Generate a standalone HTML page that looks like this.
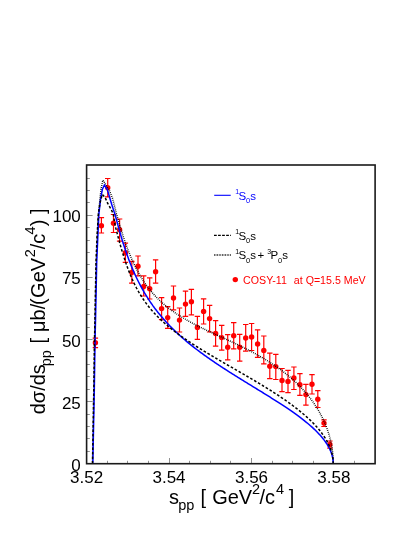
<!DOCTYPE html>
<html><head><meta charset="utf-8"><title>plot</title>
<style>html,body{margin:0;padding:0;background:#fff}svg{display:block;will-change:transform}text{font-family:"Liberation Sans",sans-serif}</style></head><body>
<svg width="415" height="537" viewBox="0 0 415 537">
<rect width="415" height="537" fill="#fff"/>
<path d="M107.50,463.7v-2.9M127.50,463.7v-2.9M148.50,463.7v-2.9M169.50,463.7v-5.7M189.50,463.7v-2.9M210.50,463.7v-2.9M230.50,463.7v-2.9M251.50,463.7v-5.7M272.50,463.7v-2.9M292.50,463.7v-2.9M313.50,463.7v-2.9M333.50,463.7v-5.7M354.50,463.7v-2.9M86.6,451.50h3.2M86.6,438.50h3.2M86.6,426.50h3.2M86.6,414.50h3.2M86.6,401.50h6.0M86.6,389.50h3.2M86.6,376.50h3.2M86.6,364.50h3.2M86.6,351.50h3.2M86.6,339.50h6.0M86.6,327.50h3.2M86.6,314.50h3.2M86.6,302.50h3.2M86.6,289.50h3.2M86.6,277.50h6.0M86.6,264.50h3.2M86.6,252.50h3.2M86.6,240.50h3.2M86.6,227.50h3.2M86.6,215.50h6.0M86.6,202.50h3.2M86.6,190.50h3.2M86.6,178.50h3.2" stroke="#858585" stroke-width="0.9" fill="none"/>
<path d="M95.4,338.2V347.7M92.7,338.2h5.4M92.7,347.7h5.4M101.4,217.6V233.0M98.7,217.6h5.4M98.7,233.0h5.4M107.7,178.5V196.8M105.0,178.5h5.4M105.0,196.8h5.4M113.5,214.5V232.5M110.8,214.5h5.4M110.8,232.5h5.4M119.6,219.0V241.2M116.9,219.0h5.4M116.9,241.2h5.4M125.4,243.1V262.4M122.7,243.1h5.4M122.7,262.4h5.4M131.8,261.4V283.2M129.1,261.4h5.4M129.1,283.2h5.4M138.0,256.0V275.9M135.3,256.0h5.4M135.3,275.9h5.4M143.7,275.9V296.0M141.0,275.9h5.4M141.0,296.0h5.4M149.7,277.8V299.0M147.0,277.8h5.4M147.0,299.0h5.4M155.6,259.9V283.2M152.9,259.9h5.4M152.9,283.2h5.4M161.6,297.6V319.7M158.9,297.6h5.4M158.9,319.7h5.4M167.7,306.6V328.4M165.0,306.6h5.4M165.0,328.4h5.4M173.5,286.0V309.9M170.8,286.0h5.4M170.8,309.9h5.4M179.5,308.0V332.0M176.8,308.0h5.4M176.8,332.0h5.4M185.5,291.2V316.3M182.8,291.2h5.4M182.8,316.3h5.4M191.4,289.3V314.9M188.7,289.3h5.4M188.7,314.9h5.4M197.4,316.3V339.4M194.7,316.3h5.4M194.7,339.4h5.4M203.6,298.9V324.0M200.9,298.9h5.4M200.9,324.0h5.4M209.6,305.3V332.0M206.9,305.3h5.4M206.9,332.0h5.4M215.6,320.6V346.2M212.9,320.6h5.4M212.9,346.2h5.4M221.7,325.4V350.1M219.0,325.4h5.4M219.0,350.1h5.4M227.7,334.7V359.8M225.0,334.7h5.4M225.0,359.8h5.4M233.7,322.6V348.8M231.0,322.6h5.4M231.0,348.8h5.4M239.7,334.3V361.1M237.0,334.3h5.4M237.0,361.1h5.4M245.7,324.5V351.1M243.0,324.5h5.4M243.0,351.1h5.4M251.6,323.5V350.5M248.9,323.5h5.4M248.9,350.5h5.4M257.6,329.9V357.4M254.9,329.9h5.4M254.9,357.4h5.4M263.8,336.0V363.8M261.1,336.0h5.4M261.1,363.8h5.4M269.8,353.2V378.6M267.1,353.2h5.4M267.1,378.6h5.4M275.8,354.3V379.5M273.1,354.3h5.4M273.1,379.5h5.4M282.0,368.5V391.7M279.3,368.5h5.4M279.3,391.7h5.4M288.0,370.3V392.6M285.3,370.3h5.4M285.3,392.6h5.4M293.9,367.0V389.5M291.2,367.0h5.4M291.2,389.5h5.4M299.9,373.7V395.3M297.2,373.7h5.4M297.2,395.3h5.4M305.9,384.3V405.2M303.2,384.3h5.4M303.2,405.2h5.4M312.0,374.7V394.0M309.3,374.7h5.4M309.3,394.0h5.4M317.8,390.7V407.5M315.1,390.7h5.4M315.1,407.5h5.4M324.0,419.8V426.5M321.3,419.8h5.4M321.3,426.5h5.4M329.9,441.0V448.1M327.2,441.0h5.4M327.2,448.1h5.4" stroke="#ff0000" stroke-width="1.2" fill="none"/>
<g fill="#ff0000"><circle cx="95.4" cy="342.8" r="2.7"/><circle cx="101.4" cy="225.7" r="2.7"/><circle cx="107.7" cy="187.7" r="2.7"/><circle cx="113.5" cy="223.3" r="2.7"/><circle cx="119.6" cy="229.8" r="2.7"/><circle cx="125.4" cy="252.8" r="2.7"/><circle cx="131.8" cy="272.4" r="2.7"/><circle cx="138.0" cy="266.3" r="2.7"/><circle cx="143.7" cy="286.5" r="2.7"/><circle cx="149.7" cy="288.8" r="2.7"/><circle cx="155.6" cy="271.7" r="2.7"/><circle cx="161.6" cy="308.6" r="2.7"/><circle cx="167.7" cy="317.6" r="2.7"/><circle cx="173.5" cy="298.0" r="2.7"/><circle cx="179.5" cy="320.1" r="2.7"/><circle cx="185.5" cy="304.1" r="2.7"/><circle cx="191.4" cy="301.8" r="2.7"/><circle cx="197.4" cy="327.4" r="2.7"/><circle cx="203.6" cy="311.4" r="2.7"/><circle cx="209.6" cy="318.6" r="2.7"/><circle cx="215.6" cy="333.5" r="2.7"/><circle cx="221.7" cy="337.6" r="2.7"/><circle cx="227.7" cy="347.2" r="2.7"/><circle cx="233.7" cy="335.7" r="2.7"/><circle cx="239.7" cy="347.2" r="2.7"/><circle cx="245.7" cy="338.0" r="2.7"/><circle cx="251.6" cy="337.0" r="2.7"/><circle cx="257.6" cy="344.0" r="2.7"/><circle cx="263.8" cy="350.4" r="2.7"/><circle cx="269.8" cy="366.2" r="2.7"/><circle cx="275.8" cy="366.6" r="2.7"/><circle cx="282.0" cy="380.5" r="2.7"/><circle cx="288.0" cy="381.4" r="2.7"/><circle cx="293.9" cy="378.0" r="2.7"/><circle cx="299.9" cy="384.7" r="2.7"/><circle cx="305.9" cy="394.6" r="2.7"/><circle cx="312.0" cy="384.3" r="2.7"/><circle cx="317.8" cy="399.3" r="2.7"/><circle cx="324.0" cy="423.1" r="2.7"/><circle cx="329.9" cy="444.4" r="2.7"/></g>
<path d="M92.50,463.60 L93.80,390.00 L94.50,342.00 L95.10,312.00 L96.20,262.00 L97.40,235.00 L98.50,213.60 L99.70,202.40 L101.00,189.30 L102.80,180.20 L105.00,183.30 L109.30,190.20 L112.40,198.00 L114.70,206.70 L116.30,213.60 L118.06,219.17 L118.64,221.25 L119.23,223.31 L119.83,225.37 L120.43,227.41 L121.04,229.43 L121.65,231.44 L122.27,233.42 L122.89,235.39 L123.52,237.32 L124.16,239.24 L124.80,241.13 L125.45,242.99 L126.10,244.83 L126.76,246.64 L127.42,248.42 L128.09,250.18 L128.76,251.90 L129.44,253.60 L130.12,255.27 L130.81,256.91 L131.51,258.52 L132.21,260.10 L132.91,261.66 L133.62,263.19 L134.33,264.69 L135.05,266.16 L135.78,267.60 L136.50,269.02 L137.24,270.41 L137.98,271.78 L138.72,273.11 L139.47,274.43 L140.22,275.72 L140.97,276.98 L141.73,278.22 L142.50,279.44 L143.27,280.63 L144.04,281.80 L144.82,282.95 L145.60,284.07 L146.39,285.17 L147.18,286.26 L147.97,287.32 L148.77,288.36 L149.58,289.38 L150.38,290.39 L151.19,291.37 L152.01,292.34 L152.82,293.29 L153.65,294.22 L154.47,295.13 L155.30,296.03 L156.13,296.91 L156.97,297.77 L157.81,298.62 L158.65,299.46 L159.50,300.28 L160.35,301.09 L161.20,301.88 L162.06,302.66 L162.92,303.42 L163.78,304.17 L164.65,304.91 L165.51,305.64 L166.39,306.36 L167.26,307.06 L168.14,307.76 L169.02,308.44 L169.90,309.11 L170.79,309.77 L171.67,310.43 L172.56,311.07 L173.46,311.70 L174.35,312.33 L175.25,312.94 L176.15,313.55 L177.05,314.15 L177.96,314.74 L178.87,315.32 L179.77,315.90 L180.69,316.47 L181.60,317.03 L182.51,317.59 L183.43,318.13 L184.35,318.68 L185.27,319.21 L186.19,319.74 L187.12,320.27 L188.04,320.79 L188.97,321.30 L189.90,321.81 L190.83,322.32 L191.76,322.82 L192.69,323.31 L193.62,323.80 L194.56,324.29 L195.50,324.77 L196.43,325.25 L197.37,325.73 L198.31,326.20 L199.25,326.67 L200.19,327.14 L201.13,327.60 L202.08,328.06 L203.02,328.52 L203.96,328.98 L204.91,329.43 L205.85,329.88 L206.80,330.33 L207.74,330.78 L208.69,331.22 L209.64,331.67 L210.58,332.11 L211.53,332.55 L212.48,332.99 L213.42,333.43 L214.37,333.87 L215.32,334.30 L216.26,334.74 L217.21,335.18 L218.16,335.61 L219.10,336.04 L220.05,336.48 L220.99,336.91 L221.94,337.35 L222.88,337.78 L223.82,338.22 L224.77,338.65 L225.71,339.08 L226.65,339.52 L227.59,339.95 L228.53,340.39 L229.47,340.83 L230.40,341.26 L231.34,341.70 L232.28,342.14 L233.21,342.58 L234.14,343.02 L235.07,343.46 L236.00,343.91 L236.93,344.35 L237.86,344.80 L238.78,345.25 L239.71,345.69 L240.63,346.14 L241.55,346.60 L242.47,347.05 L243.39,347.51 L244.30,347.96 L245.21,348.42 L246.13,348.88 L247.03,349.35 L247.94,349.81 L248.85,350.28 L249.75,350.75 L250.65,351.22 L251.55,351.69 L252.44,352.17 L253.34,352.65 L254.23,353.13 L255.11,353.61 L256.00,354.10 L256.88,354.59 L257.76,355.08 L258.64,355.57 L259.51,356.07 L260.39,356.57 L261.25,357.07 L262.12,357.58 L262.98,358.08 L263.84,358.59 L264.70,359.11 L265.55,359.62 L266.40,360.14 L267.25,360.67 L268.09,361.19 L268.93,361.72 L269.77,362.25 L270.60,362.79 L271.43,363.32 L272.25,363.86 L273.07,364.41 L273.89,364.96 L274.71,365.51 L275.52,366.06 L276.32,366.62 L277.13,367.18 L277.93,367.74 L278.72,368.31 L279.51,368.88 L280.30,369.45 L281.08,370.03 L281.86,370.61 L282.63,371.20 L283.40,371.78 L284.17,372.37 L284.93,372.97 L285.68,373.57 L286.43,374.17 L287.18,374.77 L287.92,375.38 L288.66,375.99 L289.40,376.61 L290.12,377.23 L290.85,377.85 L291.57,378.47 L292.28,379.10 L292.99,379.74 L293.69,380.37 L294.39,381.01 L295.09,381.65 L295.78,382.30 L296.46,382.95 L297.14,383.60 L297.81,384.26 L298.48,384.92 L299.14,385.59 L299.80,386.25 L300.45,386.92 L301.10,387.60 L301.74,388.28 L302.38,388.96 L303.01,389.64 L303.63,390.33 L304.25,391.02 L304.86,391.71 L305.47,392.41 L306.07,393.11 L306.67,393.82 L307.26,394.53 L307.84,395.24 L308.42,395.95 L309.00,396.67 L309.56,397.39 L310.12,398.11 L310.68,398.84 L311.23,399.57 L311.77,400.31 L312.31,401.04 L312.84,401.78 L313.36,402.52 L313.88,403.27 L314.39,404.02 L314.89,404.77 L315.39,405.53 L315.89,406.28 L316.37,407.04 L316.85,407.81 L317.33,408.57 L317.79,409.34 L318.25,410.12 L318.71,410.89 L319.15,411.67 L319.59,412.45 L320.03,413.23 L320.46,414.02 L320.88,414.81 L321.29,415.60 L321.70,416.39 L322.10,417.18 L322.49,417.98 L322.88,418.78 L323.26,419.59 L323.63,420.39 L324.00,421.20 L324.36,422.01 L324.71,422.82 L325.06,423.64 L325.40,424.45 L325.73,425.27 L326.06,426.09 L326.37,426.91 L326.68,427.74 L326.99,428.57 L327.29,429.39 L327.57,430.23 L327.86,431.06 L328.13,431.89 L328.40,432.73 L328.66,433.57 L328.92,434.40 L329.16,435.25 L329.40,436.09 L329.64,436.93 L329.86,437.78 L330.08,438.62 L330.29,439.47 L330.49,440.32 L330.69,441.17 L330.88,442.03 L331.06,442.88 L331.23,443.73 L331.40,444.59 L331.56,445.45 L331.71,446.30 L331.86,447.16 L331.99,448.02 L332.12,448.88 L332.25,449.74 L332.36,450.61 L332.47,451.47 L332.57,452.33 L332.66,453.20 L332.75,454.06 L332.83,454.93 L332.90,455.79 L332.96,456.66 L333.02,457.53 L333.07,458.39 L333.11,459.26 L333.14,460.13 L333.17,461.00 L333.19,461.86 L333.20,462.73 L333.20,463.60" stroke="#000" stroke-width="1.5" stroke-dasharray="0.85 1.15" fill="none"/>
<path d="M92.80,463.60 L94.30,390.00 L95.00,342.00 L95.70,312.00 L96.70,262.00 L97.90,235.00 L98.90,213.60 L100.70,198.00 L102.40,189.30 L104.40,185.00 L107.20,189.30 L109.30,196.30 L111.90,205.00 L114.70,213.60 L116.34,219.26 L116.90,221.38 L117.48,223.50 L118.06,225.62 L118.64,227.73 L119.23,229.84 L119.83,231.94 L120.43,234.02 L121.04,236.09 L121.65,238.15 L122.27,240.19 L122.89,242.21 L123.52,244.21 L124.16,246.19 L124.80,248.15 L125.45,250.08 L126.10,252.00 L126.76,253.88 L127.42,255.75 L128.09,257.59 L128.76,259.40 L129.44,261.19 L130.12,262.96 L130.81,264.70 L131.51,266.41 L132.21,268.11 L132.91,269.77 L133.62,271.41 L134.33,273.03 L135.05,274.63 L135.78,276.20 L136.50,277.75 L137.24,279.27 L137.98,280.77 L138.72,282.25 L139.47,283.71 L140.22,285.15 L140.97,286.57 L141.73,287.96 L142.50,289.34 L143.27,290.70 L144.04,292.03 L144.82,293.35 L145.60,294.65 L146.39,295.93 L147.18,297.20 L147.97,298.45 L148.77,299.68 L149.58,300.89 L150.38,302.09 L151.19,303.27 L152.01,304.43 L152.82,305.59 L153.65,306.72 L154.47,307.85 L155.30,308.95 L156.13,310.05 L156.97,311.13 L157.81,312.20 L158.65,313.25 L159.50,314.30 L160.35,315.33 L161.20,316.35 L162.06,317.36 L162.92,318.35 L163.78,319.34 L164.65,320.31 L165.51,321.28 L166.39,322.23 L167.26,323.18 L168.14,324.11 L169.02,325.03 L169.90,325.95 L170.79,326.86 L171.67,327.75 L172.56,328.64 L173.46,329.52 L174.35,330.40 L175.25,331.26 L176.15,332.12 L177.05,332.96 L177.96,333.80 L178.87,334.64 L179.77,335.46 L180.69,336.28 L181.60,337.10 L182.51,337.90 L183.43,338.70 L184.35,339.49 L185.27,340.28 L186.19,341.06 L187.12,341.83 L188.04,342.60 L188.97,343.36 L189.90,344.12 L190.83,344.87 L191.76,345.61 L192.69,346.35 L193.62,347.09 L194.56,347.82 L195.50,348.54 L196.43,349.26 L197.37,349.98 L198.31,350.69 L199.25,351.39 L200.19,352.10 L201.13,352.79 L202.08,353.48 L203.02,354.17 L203.96,354.86 L204.91,355.54 L205.85,356.21 L206.80,356.88 L207.74,357.55 L208.69,358.22 L209.64,358.88 L210.58,359.54 L211.53,360.19 L212.48,360.84 L213.42,361.49 L214.37,362.13 L215.32,362.77 L216.26,363.41 L217.21,364.04 L218.16,364.67 L219.10,365.30 L220.05,365.92 L220.99,366.54 L221.94,367.16 L222.88,367.78 L223.82,368.39 L224.77,369.00 L225.71,369.61 L226.65,370.22 L227.59,370.82 L228.53,371.42 L229.47,372.02 L230.40,372.61 L231.34,373.21 L232.28,373.80 L233.21,374.38 L234.14,374.97 L235.07,375.55 L236.00,376.14 L236.93,376.72 L237.86,377.29 L238.78,377.87 L239.71,378.44 L240.63,379.01 L241.55,379.58 L242.47,380.15 L243.39,380.72 L244.30,381.28 L245.21,381.84 L246.13,382.40 L247.03,382.96 L247.94,383.52 L248.85,384.07 L249.75,384.63 L250.65,385.18 L251.55,385.73 L252.44,386.28 L253.34,386.82 L254.23,387.37 L255.11,387.91 L256.00,388.46 L256.88,389.00 L257.76,389.54 L258.64,390.08 L259.51,390.61 L260.39,391.15 L261.25,391.68 L262.12,392.22 L262.98,392.75 L263.84,393.28 L264.70,393.81 L265.55,394.34 L266.40,394.87 L267.25,395.39 L268.09,395.92 L268.93,396.44 L269.77,396.96 L270.60,397.48 L271.43,398.01 L272.25,398.52 L273.07,399.04 L273.89,399.56 L274.71,400.08 L275.52,400.59 L276.32,401.11 L277.13,401.62 L277.93,402.13 L278.72,402.65 L279.51,403.16 L280.30,403.67 L281.08,404.18 L281.86,404.69 L282.63,405.19 L283.40,405.70 L284.17,406.21 L284.93,406.71 L285.68,407.22 L286.43,407.72 L287.18,408.22 L287.92,408.73 L288.66,409.23 L289.40,409.73 L290.12,410.23 L290.85,410.73 L291.57,411.23 L292.28,411.73 L292.99,412.23 L293.69,412.72 L294.39,413.22 L295.09,413.72 L295.78,414.21 L296.46,414.71 L297.14,415.20 L297.81,415.69 L298.48,416.19 L299.14,416.68 L299.80,417.17 L300.45,417.66 L301.10,418.16 L301.74,418.65 L302.38,419.14 L303.01,419.63 L303.63,420.12 L304.25,420.60 L304.86,421.09 L305.47,421.58 L306.07,422.07 L306.67,422.56 L307.26,423.04 L307.84,423.53 L308.42,424.02 L309.00,424.50 L309.56,424.99 L310.12,425.47 L310.68,425.96 L311.23,426.44 L311.77,426.92 L312.31,427.41 L312.84,427.89 L313.36,428.37 L313.88,428.86 L314.39,429.34 L314.89,429.82 L315.39,430.30 L315.89,430.78 L316.37,431.27 L316.85,431.75 L317.33,432.23 L317.79,432.71 L318.25,433.19 L318.71,433.67 L319.15,434.15 L319.59,434.63 L320.03,435.11 L320.46,435.59 L320.88,436.06 L321.29,436.54 L321.70,437.02 L322.10,437.50 L322.49,437.98 L322.88,438.45 L323.26,438.93 L323.63,439.41 L324.00,439.89 L324.36,440.36 L324.71,440.84 L325.06,441.32 L325.40,441.79 L325.73,442.27 L326.06,442.75 L326.37,443.22 L326.68,443.70 L326.99,444.17 L327.29,444.65 L327.57,445.12 L327.86,445.60 L328.13,446.07 L328.40,446.55 L328.66,447.02 L328.92,447.50 L329.16,447.97 L329.40,448.45 L329.64,448.92 L329.86,449.40 L330.08,449.87 L330.29,450.35 L330.49,450.82 L330.69,451.29 L330.88,451.77 L331.06,452.24 L331.23,452.72 L331.40,453.19 L331.56,453.66 L331.71,454.14 L331.86,454.61 L331.99,455.08 L332.12,455.56 L332.25,456.03 L332.36,456.50 L332.47,456.98 L332.57,457.45 L332.66,457.92 L332.75,458.40 L332.83,458.87 L332.90,459.34 L332.96,459.82 L333.02,460.29 L333.07,460.76 L333.11,461.24 L333.14,461.71 L333.17,462.18 L333.19,462.65 L333.20,463.13 L333.20,463.60" stroke="#0000ff" stroke-width="1.5" fill="none"/>
<path d="M92.50,463.60 L93.80,390.00 L94.50,342.00 L95.10,312.00 L96.00,262.00 L97.10,235.00 L98.40,213.60 L100.00,203.00 L102.20,194.40 L105.00,197.20 L107.60,203.20 L110.60,208.40 L113.20,213.60 L115.22,225.92 L115.78,228.07 L116.34,230.24 L116.90,232.42 L117.48,234.60 L118.06,236.78 L118.64,238.96 L119.23,241.13 L119.83,243.29 L120.43,245.44 L121.04,247.56 L121.65,249.67 L122.27,251.75 L122.89,253.80 L123.52,255.83 L124.16,257.83 L124.80,259.80 L125.45,261.73 L126.10,263.63 L126.76,265.50 L127.42,267.33 L128.09,269.13 L128.76,270.89 L129.44,272.61 L130.12,274.30 L130.81,275.96 L131.51,277.58 L132.21,279.17 L132.91,280.72 L133.62,282.24 L134.33,283.73 L135.05,285.18 L135.78,286.60 L136.50,288.00 L137.24,289.36 L137.98,290.69 L138.72,292.00 L139.47,293.27 L140.22,294.52 L140.97,295.75 L141.73,296.95 L142.50,298.12 L143.27,299.27 L144.04,300.40 L144.82,301.51 L145.60,302.60 L146.39,303.66 L147.18,304.71 L147.97,305.74 L148.77,306.75 L149.58,307.74 L150.38,308.71 L151.19,309.67 L152.01,310.62 L152.82,311.54 L153.65,312.46 L154.47,313.36 L155.30,314.24 L156.13,315.11 L156.97,315.97 L157.81,316.82 L158.65,317.66 L159.50,318.49 L160.35,319.30 L161.20,320.11 L162.06,320.90 L162.92,321.69 L163.78,322.46 L164.65,323.23 L165.51,323.99 L166.39,324.74 L167.26,325.49 L168.14,326.22 L169.02,326.95 L169.90,327.67 L170.79,328.39 L171.67,329.09 L172.56,329.80 L173.46,330.49 L174.35,331.18 L175.25,331.86 L176.15,332.54 L177.05,333.22 L177.96,333.88 L178.87,334.55 L179.77,335.21 L180.69,335.86 L181.60,336.51 L182.51,337.16 L183.43,337.80 L184.35,338.43 L185.27,339.07 L186.19,339.70 L187.12,340.32 L188.04,340.95 L188.97,341.56 L189.90,342.18 L190.83,342.79 L191.76,343.40 L192.69,344.01 L193.62,344.61 L194.56,345.21 L195.50,345.81 L196.43,346.41 L197.37,347.00 L198.31,347.59 L199.25,348.18 L200.19,348.76 L201.13,349.35 L202.08,349.93 L203.02,350.51 L203.96,351.09 L204.91,351.66 L205.85,352.24 L206.80,352.81 L207.74,353.38 L208.69,353.94 L209.64,354.51 L210.58,355.08 L211.53,355.64 L212.48,356.20 L213.42,356.76 L214.37,357.32 L215.32,357.88 L216.26,358.43 L217.21,358.99 L218.16,359.54 L219.10,360.09 L220.05,360.64 L220.99,361.19 L221.94,361.74 L222.88,362.29 L223.82,362.84 L224.77,363.38 L225.71,363.93 L226.65,364.47 L227.59,365.01 L228.53,365.56 L229.47,366.10 L230.40,366.64 L231.34,367.18 L232.28,367.72 L233.21,368.25 L234.14,368.79 L235.07,369.33 L236.00,369.86 L236.93,370.40 L237.86,370.93 L238.78,371.47 L239.71,372.00 L240.63,372.53 L241.55,373.07 L242.47,373.60 L243.39,374.13 L244.30,374.66 L245.21,375.19 L246.13,375.72 L247.03,376.25 L247.94,376.78 L248.85,377.31 L249.75,377.84 L250.65,378.37 L251.55,378.90 L252.44,379.42 L253.34,379.95 L254.23,380.48 L255.11,381.01 L256.00,381.53 L256.88,382.06 L257.76,382.59 L258.64,383.11 L259.51,383.64 L260.39,384.17 L261.25,384.69 L262.12,385.22 L262.98,385.74 L263.84,386.27 L264.70,386.80 L265.55,387.32 L266.40,387.85 L267.25,388.37 L268.09,388.90 L268.93,389.42 L269.77,389.95 L270.60,390.47 L271.43,391.00 L272.25,391.53 L273.07,392.05 L273.89,392.58 L274.71,393.10 L275.52,393.63 L276.32,394.15 L277.13,394.68 L277.93,395.21 L278.72,395.73 L279.51,396.26 L280.30,396.78 L281.08,397.31 L281.86,397.84 L282.63,398.36 L283.40,398.89 L284.17,399.42 L284.93,399.94 L285.68,400.47 L286.43,401.00 L287.18,401.52 L287.92,402.05 L288.66,402.58 L289.40,403.11 L290.12,403.64 L290.85,404.16 L291.57,404.69 L292.28,405.22 L292.99,405.75 L293.69,406.28 L294.39,406.81 L295.09,407.34 L295.78,407.87 L296.46,408.40 L297.14,408.93 L297.81,409.46 L298.48,409.99 L299.14,410.52 L299.80,411.05 L300.45,411.58 L301.10,412.11 L301.74,412.65 L302.38,413.18 L303.01,413.71 L303.63,414.24 L304.25,414.78 L304.86,415.31 L305.47,415.84 L306.07,416.38 L306.67,416.91 L307.26,417.44 L307.84,417.98 L308.42,418.51 L309.00,419.05 L309.56,419.58 L310.12,420.12 L310.68,420.65 L311.23,421.19 L311.77,421.73 L312.31,422.26 L312.84,422.80 L313.36,423.33 L313.88,423.87 L314.39,424.41 L314.89,424.95 L315.39,425.48 L315.89,426.02 L316.37,426.56 L316.85,427.10 L317.33,427.64 L317.79,428.18 L318.25,428.72 L318.71,429.26 L319.15,429.80 L319.59,430.34 L320.03,430.88 L320.46,431.42 L320.88,431.96 L321.29,432.50 L321.70,433.04 L322.10,433.58 L322.49,434.12 L322.88,434.66 L323.26,435.21 L323.63,435.75 L324.00,436.29 L324.36,436.83 L324.71,437.38 L325.06,437.92 L325.40,438.46 L325.73,439.01 L326.06,439.55 L326.37,440.09 L326.68,440.64 L326.99,441.18 L327.29,441.73 L327.57,442.27 L327.86,442.82 L328.13,443.36 L328.40,443.91 L328.66,444.45 L328.92,445.00 L329.16,445.54 L329.40,446.09 L329.64,446.63 L329.86,447.18 L330.08,447.72 L330.29,448.27 L330.49,448.82 L330.69,449.36 L330.88,449.91 L331.06,450.46 L331.23,451.00 L331.40,451.55 L331.56,452.10 L331.71,452.64 L331.86,453.19 L331.99,453.74 L332.12,454.29 L332.25,454.83 L332.36,455.38 L332.47,455.93 L332.57,456.48 L332.66,457.02 L332.75,457.57 L332.83,458.12 L332.90,458.67 L332.96,459.22 L333.02,459.76 L333.07,460.31 L333.11,460.86 L333.14,461.41 L333.17,461.96 L333.19,462.50 L333.20,463.05 L333.20,463.60" stroke="#000" stroke-width="1.5" stroke-dasharray="2.6 1.9" fill="none"/>
<rect x="86.6" y="165.0" width="288.50" height="298.70" fill="none" stroke="#1a1a1a" stroke-width="1.6"/>
<g font-size="17" fill="#000">
<text x="86.6" y="482.5" text-anchor="middle">3.52</text>
<text x="169.0" y="482.5" text-anchor="middle">3.54</text>
<text x="251.5" y="482.5" text-anchor="middle">3.56</text>
<text x="333.9" y="482.5" text-anchor="middle">3.58</text>
<text x="80.8" y="470.7" text-anchor="end">0</text>
<text x="80.8" y="408.6" text-anchor="end">25</text>
<text x="80.8" y="346.5" text-anchor="end">50</text>
<text x="80.8" y="284.4" text-anchor="end">75</text>
<text x="80.8" y="222.3" text-anchor="end">100</text>
</g>
<text x="169.0" y="503.6" font-size="20" fill="#000">s</text>
<text x="178.3" y="510.3" font-size="14.5" fill="#000">pp</text>
<text x="200.5" y="503.6" font-size="20" fill="#000">[</text>
<text x="212.2" y="503.6" font-size="20" fill="#000">GeV</text>
<text x="252.0" y="493.5" font-size="14.5" fill="#000">2</text>
<text x="259.5" y="503.6" font-size="20" fill="#000">/c</text>
<text x="276.0" y="493.5" font-size="14.5" fill="#000">4</text>
<text x="288.8" y="503.6" font-size="20" fill="#000">]</text>
<text transform="translate(45.0,414.3) rotate(-90)" font-size="20" fill="#000">dσ/ds</text>
<text transform="translate(51.2,366.3) rotate(-90)" font-size="14.5" fill="#000">pp</text>
<text transform="translate(45.0,343.6) rotate(-90)" font-size="20" fill="#000">[</text>
<text transform="translate(45.0,332.0) rotate(-90)" font-size="20" fill="#000">μb/</text>
<text transform="translate(45.0,304.9) rotate(-90)" font-size="20" fill="#000">(</text>
<text transform="translate(45.0,297.9) rotate(-90)" font-size="20" fill="#000">GeV</text>
<text transform="translate(34.9,257.3) rotate(-90)" font-size="14.5" fill="#000">2</text>
<text transform="translate(45.0,249.2) rotate(-90)" font-size="20" fill="#000">/c</text>
<text transform="translate(34.9,234.4) rotate(-90)" font-size="14.5" fill="#000">4</text>
<text transform="translate(45.0,226.3) rotate(-90)" font-size="20" fill="#000">)</text>
<text transform="translate(45.0,213.9) rotate(-90)" font-size="20" fill="#000">]</text>
<path d="M214.2,195.3h16.5" stroke="#0000ff" stroke-width="1.1"/>
<text x="235.30" y="194.20" font-size="7" fill="#0000ff">1</text><text x="238.40" y="200.10" font-size="11.5" fill="#0000ff">S<tspan font-size="7.5" dy="3.1">0</tspan><tspan dy="-3.1">s</tspan></text>
<path d="M214.0,235.4h17" stroke="#000" stroke-width="1.3" stroke-dasharray="2.75 1.3"/>
<text x="235.30" y="234.10" font-size="7" fill="#000">1</text><text x="238.40" y="240.00" font-size="11.5" fill="#000">S<tspan font-size="7.5" dy="3.1">0</tspan><tspan dy="-3.1">s</tspan></text>
<path d="M214.0,255.1h17" stroke="#000" stroke-width="1.5" stroke-dasharray="0.8 0.8"/>
<text x="235.30" y="253.50" font-size="7" fill="#000">1</text><text x="238.40" y="259.40" font-size="11.5" fill="#000">S<tspan font-size="7.5" dy="3.1">0</tspan><tspan dy="-3.1">s</tspan></text>
<text x="257.6" y="259.4" font-size="11.5" fill="#000">+</text>
<text x="267.30" y="253.50" font-size="7" fill="#000">3</text><text x="270.40" y="259.40" font-size="11.5" fill="#000">P<tspan font-size="7.5" dy="3.1">0</tspan><tspan dy="-3.1">s</tspan></text>
<circle cx="235.3" cy="279.6" r="2.7" fill="#ff0000"/>
<text x="243.1" y="283.9" font-size="10.65" fill="#ff0000">COSY-11</text>
<text x="293.8" y="283.9" font-size="10.65" fill="#ff0000">at Q=15.5 MeV</text>
</svg></body></html>
